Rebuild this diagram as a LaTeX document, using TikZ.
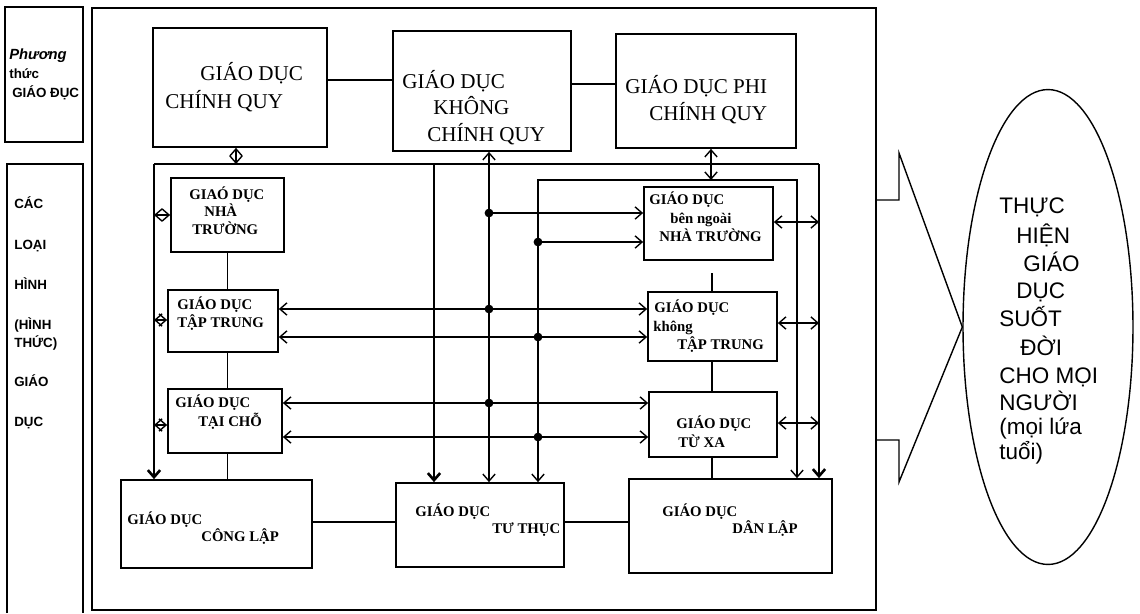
\documentclass[tikz,border=0pt]{standalone}
\usepackage{fontspec}
\setmainfont{Liberation Serif}
\newfontfamily\sansf{Liberation Sans}
\usetikzlibrary{arrows.meta,fit,shapes.geometric}
\begin{document}
\begin{tikzpicture}[x=0.02cm,y=-0.02cm,
  >={Straight Barb[length=4pt,width=7pt]},
  box/.style={draw, line width=1pt, inner sep=0pt},
  conn/.style={line width=0.8pt},
  heavy/.style={line width=1.5pt},
  jdot/.style={circle, fill, inner sep=0pt, minimum size=5pt},
  tb/.style={font=\fontsize{12}{14}\selectfont, inner sep=0pt, anchor=west, text height=7.9pt, text depth=0pt},
  ti/.style={font=\bfseries\fontsize{8.4}{10}\selectfont, inner sep=0pt, anchor=west, text height=5.6pt, text depth=0pt},
  ts/.style={font=\sansf\bfseries\fontsize{7.6}{10}\selectfont, inner sep=0pt, anchor=west, text height=5.5pt, text depth=0pt},
  tsi/.style={ts, font=\sansf\bfseries\itshape\fontsize{8.4}{10}\selectfont},
  te/.style={font=\sansf\fontsize{12.8}{15}\selectfont, inner sep=0pt, anchor=west, text height=9.1pt, text depth=0pt}]

\useasboundingbox (0,0) rectangle (1140,613);

% side panels and main frame
\node[box, fit={(5,7) (83,142)}] (p1) {};
\draw[line width=1pt] (7,613) -- (7,164) -- (83,164) -- (83,613);
\node[box, line width=0.8pt, fit={(92,8) (876,610)}] (main) {};

% boxes
\node[box, fit={(153,28) (327,147)}] (cq) {};
\node[box, fit={(393,31) (571,151)}] (kcq) {};
\node[box, fit={(616,34) (796,148)}] (pcq) {};
\node[box, fit={(171,178) (284,252)}] (nt) {};
\node[box, fit={(168,290) (278,352)}] (tp) {};
\node[box, fit={(168,389) (282,453)}] (tc) {};
\node[box, fit={(644,187) (773,260)}] (bn) {};
\node[box, fit={(648,292) (777,361)}] (ktp) {};
\node[box, fit={(649,392) (777,457)}] (tx) {};
\node[box, fit={(121,480) (312,568)}] (cl) {};
\node[box, fit={(396,483) (564,567)}] (tt) {};
\node[box, fit={(629,479) (832,573)}] (dl) {};
\node[draw, ellipse, line width=0.8pt, inner sep=0pt, minimum width=3.4cm, minimum height=9.5cm] (ell) at (1048,327) {};

% coordinates
\coordinate (yA) at (0,80);
\coordinate (yB) at (0,84);
\coordinate (tl) at (154,164);
\coordinate (tr) at (819,164);
\coordinate (h1) at (236,164);
\coordinate (v434) at (434,164);
\coordinate (x489) at (489,200);
\coordinate (i1) at (538,180);
\coordinate (i2) at (797,180);
\coordinate (x711) at (711,170);
\coordinate (x712) at (712,300);
\coordinate (d1) at (489,213);
\coordinate (d2) at (538,242);
\coordinate (d3) at (489,309);
\coordinate (d4) at (538,337);
\coordinate (d5) at (489,403);
\coordinate (d6) at (538,437);
\coordinate (l1) at (154,215);
\coordinate (l2) at (154,320);
\coordinate (l3) at (154,425);
\coordinate (r1) at (819,222);
\coordinate (r2) at (819,323);
\coordinate (r3) at (819,423);
\coordinate (b1) at (0,522);
\coordinate (c1) at (899,200);
\coordinate (c2) at (899,153);
\coordinate (c4) at (899,482);
\coordinate (c5) at (899,440);

% top row links
\draw[conn] (cq.east |- yA) -- (kcq.west |- yA);
\draw[conn] (kcq.east |- yB) -- (pcq.west |- yB);

% frame lines
\draw[heavy] (tl) -- (tr);
\draw[heavy,->] (tl) -- (tl |- cl.north);
\draw[heavy,->] (tr) -- (tr |- dl.north);
\draw[conn,<->] (h1 |- cq.south) -- (h1);
\draw[heavy,->] (v434) -- (v434 |- tt.north);
\draw[conn,<->] (x489 |- kcq.south) -- (x489 |- tt.north);
\draw[conn,<->] (i1 |- tt.north) -- (i1) -- (i2) -- (i2 |- dl.north);
\draw[conn,<->] (x711 |- pcq.south) -- (x711 |- i1);

% horizontal links
\draw[conn,->] (d1) -- (d1 -| bn.west);
\draw[conn,->] (d2) -- (d2 -| bn.west);
\draw[conn,<->] (tp.east |- d3) -- (ktp.west |- d3);
\draw[conn,<->] (tp.east |- d4) -- (ktp.west |- d4);
\draw[conn,<->] (tc.east |- d5) -- (tx.west |- d5);
\draw[conn,<->] (tc.east |- d6) -- (tx.west |- d6);
\foreach \d in {d1,d2,d3,d4,d5,d6} \node[jdot] at (\d) {};

% side arrows
\draw[conn,<->] (l1) -- (l1 -| nt.west);
\draw[conn,<->] (l2) -- (l2 -| tp.west);
\draw[conn,<->] (l3) -- (l3 -| tc.west);
\draw[conn,<->] (bn.east |- r1) -- (r1);
\draw[conn,<->] (ktp.east |- r2) -- (r2);
\draw[conn,<->] (tx.east |- r3) -- (r3);

% vertical chains
\draw[conn] (nt.south) -- (nt.south |- tp.north);
\draw[conn] (nt.south |- tp.south) -- (nt.south |- tc.north);
\draw[conn] (nt.south |- tc.south) -- (nt.south |- cl.north);
\draw[conn, shorten <=7pt] (x712 |- bn.south) -- (x712 |- ktp.north);
\draw[conn] (x712 |- ktp.south) -- (x712 |- tx.north);
\draw[conn] (x712 |- tx.south) -- (x712 |- dl.north);

% bottom links
\draw[conn] (cl.east |- b1) -- (tt.west |- b1);
\draw[conn] (tt.east |- b1) -- (dl.west |- b1);

% callout to ellipse
\draw[conn] (main.east |- c1) -- (c1) -- (c2) -- (ell.west) -- (c4) -- (c5) -- (main.east |- c5);

% texts
\node[tsi] (s1) at (9,55) {Phương};
\node[ts] (s2) at (9,74) {thức};
\node[ts] (s3) at (12,93) {GIÁO ĐỤC};
\node[ts] (s4) at (14,204) {CÁC};
\node[ts] (s5) at (14,245) {LOẠI};
\node[ts] (s6) at (14,285) {HÌNH};
\node[ts] (s7) at (14,325) {(HÌNH};
\node[ts] (s8) at (14,343) {THỨC)};
\node[ts] (s9) at (14,382) {GIÁO};
\node[ts] (s10) at (14,422) {DỤC};

\node[tb] (t1) at (200,74) {GIÁO DỤC};
\node[tb] (t2) at (165,102) {CHÍNH QUY};
\node[tb] (t3) at (402,82) {GIÁO DỤC};
\node[tb] (t4) at (433,108) {KHÔNG};
\node[tb] (t5) at (427,135) {CHÍNH QUY};
\node[tb] (t6) at (625,87) {GIÁO DỤC PHI};
\node[tb] (t7) at (649,114) {CHÍNH QUY};

\node[ti] (u1) at (189,195) {GIAÓ DỤC};
\node[ti] (u2) at (204,212) {NHÀ};
\node[ti] (u3) at (192,230) {TRƯỜNG};
\node[ti] (u4) at (177,305) {GIÁO DỤC};
\node[ti] (u5) at (177,323) {TẬP TRUNG};
\node[ti] (u6) at (175,403) {GIÁO DỤC};
\node[ti] (u7) at (198,422) {TẠI CHỖ};
\node[ti] (u8) at (649,200) {GIÁO DỤC};
\node[ti] (u9) at (670,219) {bên ngoài};
\node[ti] (u10) at (659,237) {NHÀ TRƯỜNG};
\node[ti] (u11) at (654,308) {GIÁO DỤC};
\node[ti] (u12) at (653,327) {không};
\node[ti] (u13) at (677,345) {TẬP TRUNG};
\node[ti] (u14) at (676,424) {GIÁO DỤC};
\node[ti] (u15) at (678,443) {TỪ XA};
\node[ti] (u16) at (127,520) {GIÁO DỤC};
\node[ti] (u17) at (201,537) {CÔNG LẬP};
\node[ti] (u18) at (415,512) {GIÁO DỤC};
\node[ti] (u19) at (492,529) {TƯ THỤC};
\node[ti] (u20) at (662,512) {GIÁO DỤC};
\node[ti] (u21) at (732,529) {DÂN LẬP};

\node[te] (e1) at (999,205) {THỰC};
\node[te] (e2) at (1016,235) {HIỆN};
\node[te] (e3) at (1023,263) {GIÁO};
\node[te] (e4) at (1016,290) {DỤC};
\node[te] (e5) at (999,318) {SUỐT};
\node[te] (e6) at (1020,347) {ĐỜI};
\node[te] (e7) at (999,375) {CHO MỌI};
\node[te] (e8) at (999,402) {NGƯỜI};
\node[te] (e9) at (999,426) {(mọi lứa};
\node[te] (e10) at (999,451) {tuổi)};
\end{tikzpicture}
\end{document}
